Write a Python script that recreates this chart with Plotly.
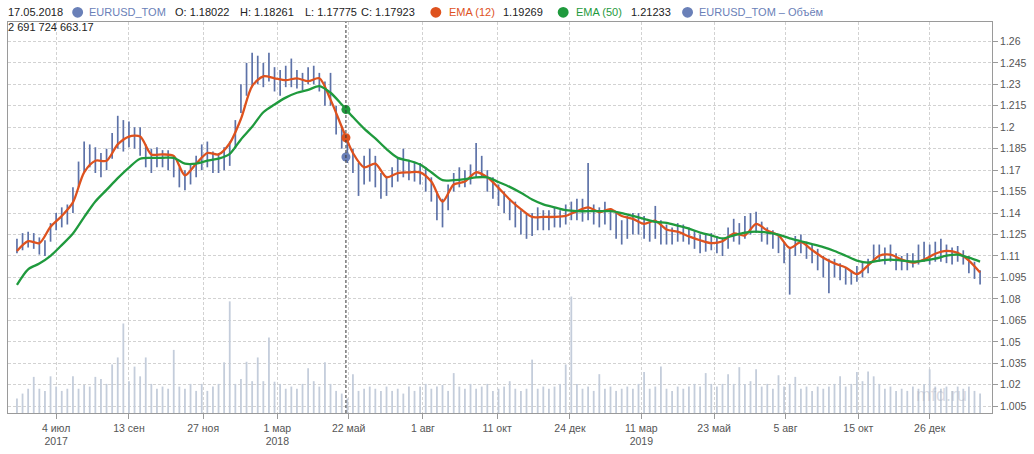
import plotly.graph_objects as go

# ---------------- data ----------------
SAMPLE_STEP = 4          # trading days between price / volume samples
EMA_STEP = 8             # trading days between EMA samples

low = [1.112, 1.114, 1.116, 1.115, 1.111, 1.110, 1.120, 1.128, 1.130, 1.132,
       1.140, 1.158, 1.168, 1.172, 1.168, 1.165, 1.170, 1.178, 1.185, 1.183,
       1.186, 1.185, 1.180, 1.172, 1.168, 1.172, 1.172, 1.170, 1.165, 1.158,
       1.156, 1.160, 1.165, 1.170, 1.172, 1.168, 1.168, 1.170, 1.173, 1.185,
       1.210, 1.222, 1.228, 1.230, 1.228, 1.232, 1.225, 1.222, 1.228, 1.228,
       1.227, 1.226, 1.230, 1.230, 1.225, 1.215, 1.215, 1.195, 1.185, 1.175,
       1.168, 1.152, 1.160, 1.162, 1.158, 1.150, 1.152, 1.158, 1.162, 1.165,
       1.163, 1.162, 1.160, 1.155, 1.148, 1.135, 1.130, 1.142, 1.155, 1.158,
       1.158, 1.160, 1.165, 1.165, 1.155, 1.150, 1.145, 1.140, 1.135, 1.130,
       1.125, 1.122, 1.124, 1.128, 1.128, 1.128, 1.130, 1.130, 1.132, 1.135,
       1.135, 1.134, 1.135, 1.132, 1.130, 1.132, 1.128, 1.122, 1.118, 1.122,
       1.125, 1.125, 1.122, 1.120, 1.122, 1.118, 1.118, 1.118, 1.120, 1.120,
       1.118, 1.115, 1.112, 1.113, 1.114, 1.112, 1.110, 1.115, 1.120, 1.118,
       1.122, 1.125, 1.126, 1.120, 1.118, 1.115, 1.112, 1.105, 1.083, 1.110,
       1.112, 1.108, 1.105, 1.100, 1.095, 1.084, 1.095, 1.093, 1.090, 1.090,
       1.092, 1.095, 1.098, 1.106, 1.106, 1.104, 1.106, 1.100, 1.100, 1.100,
       1.102, 1.104, 1.106, 1.104, 1.106, 1.106, 1.105, 1.104, 1.106, 1.104,
       1.098, 1.094, 1.090]

high = [1.122, 1.126, 1.127, 1.126, 1.123, 1.121, 1.133, 1.140, 1.144, 1.146,
        1.158, 1.176, 1.190, 1.188, 1.186, 1.182, 1.185, 1.196, 1.208, 1.205,
        1.204, 1.200, 1.200, 1.188, 1.185, 1.186, 1.184, 1.184, 1.180, 1.172,
        1.170, 1.175, 1.180, 1.188, 1.190, 1.183, 1.182, 1.186, 1.190, 1.205,
        1.230, 1.245, 1.252, 1.250, 1.245, 1.252, 1.242, 1.240, 1.243, 1.248,
        1.240, 1.238, 1.242, 1.243, 1.238, 1.232, 1.238, 1.215, 1.200, 1.190,
        1.185, 1.175, 1.180, 1.185, 1.180, 1.168, 1.166, 1.172, 1.178, 1.185,
        1.177, 1.176, 1.175, 1.172, 1.165, 1.155, 1.150, 1.160, 1.168, 1.172,
        1.170, 1.174, 1.189, 1.180, 1.170, 1.165, 1.160, 1.155, 1.150, 1.148,
        1.142, 1.140, 1.140, 1.144, 1.142, 1.142, 1.144, 1.142, 1.146, 1.148,
        1.150, 1.150, 1.175, 1.146, 1.144, 1.148, 1.142, 1.140, 1.135, 1.138,
        1.140, 1.140, 1.138, 1.135, 1.145, 1.135, 1.132, 1.130, 1.133, 1.132,
        1.130, 1.128, 1.125, 1.126, 1.126, 1.124, 1.122, 1.130, 1.136, 1.133,
        1.138, 1.140, 1.141, 1.134, 1.130, 1.128, 1.125, 1.120, 1.115, 1.124,
        1.125, 1.120, 1.118, 1.115, 1.110, 1.108, 1.108, 1.105, 1.102, 1.100,
        1.103, 1.106, 1.108, 1.118, 1.118, 1.116, 1.118, 1.112, 1.110, 1.112,
        1.112, 1.118, 1.120, 1.118, 1.120, 1.122, 1.118, 1.116, 1.117, 1.114,
        1.110, 1.106, 1.100]

volume_bn = [2.7, 3.6, 4.5, 6.7, 4.5, 4.1, 6.8, 4.9, 4.1, 4.5,
             6.8, 4.5, 5.2, 4.9, 6.7, 6.3, 5.4, 9.0, 10.3, 16.6,
             5.9, 8.6, 6.8, 10.3, 5.4, 4.5, 4.9, 4.5, 11.7, 4.9,
             4.5, 5.4, 4.1, 5.4, 4.1, 4.9, 5.4, 9.4, 20.7, 5.4,
             6.3, 9.5, 5.9, 10.3, 5.9, 14.0, 5.8, 5.4, 4.5, 4.9,
             4.5, 5.4, 8.3, 5.9, 4.9, 9.4, 5.4, 4.1, 3.6, 2.7,
             7.2, 4.1, 4.5, 4.9, 4.5, 4.1, 4.9, 4.1, 4.5, 3.6,
             4.9, 4.1, 4.9, 5.4, 4.5, 4.9, 5.2, 4.1, 7.4, 4.9,
             4.5, 5.4, 4.5, 4.9, 5.4, 4.1, 4.5, 4.9, 5.9, 4.5,
             4.1, 4.5, 9.9, 4.5, 4.9, 4.5, 4.9, 5.4, 9.0, 21.6,
             5.4, 4.5, 4.9, 4.1, 7.2, 4.5, 4.9, 4.1, 4.5, 4.9,
             4.5, 5.4, 7.6, 4.5, 4.9, 8.6, 4.5, 4.1, 4.9, 4.5,
             4.9, 5.4, 4.9, 7.4, 5.4, 4.9, 5.4, 7.2, 5.4, 8.5,
             5.4, 5.9, 8.1, 4.9, 5.4, 4.5, 7.0, 4.9, 5.4, 6.7,
             4.5, 4.9, 4.1, 4.9, 4.5, 4.9, 5.4, 6.8, 4.9, 5.4,
             7.6, 5.9, 7.7, 6.8, 5.4, 4.5, 4.9, 4.1, 4.5, 4.1,
             4.9, 4.5, 5.4, 8.1, 4.9, 4.5, 4.9, 4.1, 4.9, 4.5,
             4.9, 4.1, 3.6]

ema12 = [1.1135, 1.1204, 1.1190, 1.1305, 1.1380, 1.1475, 1.1685, 1.1766, 1.1766, 1.1880,
         1.1935, 1.1935, 1.1810, 1.1810, 1.1800, 1.1664, 1.1745, 1.1820, 1.1810, 1.1888,
         1.2058, 1.2288, 1.2356, 1.2342, 1.2329, 1.2342, 1.2322, 1.2342, 1.2193, 1.2003,
         1.1820, 1.1720, 1.1746, 1.1650, 1.1680, 1.1685, 1.1685, 1.1620, 1.1480, 1.1600,
         1.1620, 1.1685, 1.1650, 1.1576, 1.1495, 1.1427, 1.1373, 1.1373, 1.1373, 1.1380,
         1.1413, 1.1440, 1.1407, 1.1427, 1.1380, 1.1360, 1.1325, 1.1346, 1.1285, 1.1270,
         1.1237, 1.1210, 1.1190, 1.1203, 1.1257, 1.1244, 1.1325, 1.1278, 1.1244, 1.1156,
         1.1197, 1.1142, 1.1088, 1.1048, 1.1020, 1.0973, 1.1034, 1.1102, 1.1109, 1.1075,
         1.1054, 1.1075, 1.1116, 1.1136, 1.1122, 1.1068, 1.0985]

ema50 = [1.0898, 1.1007, 1.1047, 1.1101, 1.1176, 1.1257, 1.1372, 1.1481, 1.1562, 1.1644,
         1.1718, 1.1780, 1.1786, 1.1786, 1.1786, 1.1746, 1.1746, 1.1766, 1.1780, 1.1814,
         1.1915, 1.2003, 1.2105, 1.2159, 1.2207, 1.2241, 1.2261, 1.2288, 1.2241, 1.2159,
         1.2071, 1.1990, 1.1922, 1.1847, 1.1786, 1.1766, 1.1739, 1.1685, 1.1630, 1.1630,
         1.1637, 1.1650, 1.1650, 1.1617, 1.1583, 1.1542, 1.1495, 1.1461, 1.1440, 1.1420,
         1.1413, 1.1413, 1.1413, 1.1413, 1.1400, 1.1380, 1.1360, 1.1339, 1.1332, 1.1312,
         1.1291, 1.1264, 1.1244, 1.1223, 1.1244, 1.1264, 1.1271, 1.1264, 1.1250, 1.1223,
         1.1203, 1.1183, 1.1162, 1.1135, 1.1102, 1.1068, 1.1054, 1.1068, 1.1075, 1.1068,
         1.1061, 1.1068, 1.1081, 1.1102, 1.1109, 1.1088, 1.1061]

# x-axis labels (trading-day index of each labelled bar)
tick_days = [28, 80, 133, 186, 237, 290, 343, 395, 446, 498, 549, 601, 652]
tick_text = ["4 июл<br>2017", "13 сен", "27 ноя", "1 мар<br>2018", "22 май",
             "1 авг", "11 окт", "24 дек", "11 мар<br>2019", "23 май",
             "5 авг", "15 окт", "26 дек"]
y_ticks = [1.005, 1.02, 1.035, 1.05, 1.065, 1.08, 1.095, 1.11, 1.125, 1.14,
           1.155, 1.17, 1.185, 1.2, 1.215, 1.23, 1.245, 1.26]

# highlighted (crosshair) bar
hover_date = "17.05.2018"
hover_day = 235
hover_open, hover_high, hover_low, hover_close = 1.18022, 1.18261, 1.17775, 1.17923
hover_ema12, hover_ema50 = 1.19269, 1.21233
hover_volume = 2691724663.17

# ---------------- styling ----------------
W, H = 1034, 454
L, R, T, B = 7, 996, 22, 425
FONT = "Liberation Sans, Arial, sans-serif"
C_PRICE = "#5d72a8"
C_SER = "#6a80b8"
C_EMA12 = "#de521e"
C_EMA50 = "#1f9a3d"
C_VOL = "#c4cddb"
C_GRID = "#d2d2d2"
C_AXIS = "#9a9a9a"

price_days = [SAMPLE_STEP * i for i in range(len(low))]
ema_days = [EMA_STEP * i for i in range(len(ema12))]


def segments(xs, y0s, y1s):
    sx, sy = [], []
    for d, a, b in zip(xs, y0s, y1s):
        sx += [d, d, None]
        sy += [a, b, None]
    return sx, sy


seg_x, seg_y = segments(price_days, low, high)
vol_x, vol_y = segments(price_days, [0] * len(volume_bn), volume_bn)

fig = go.Figure()

fig.add_trace(go.Scatter(x=vol_x, y=vol_y, mode="lines", yaxis="y2",
                         line=dict(color=C_VOL, width=1.8),
                         hoverinfo="skip", showlegend=False))
fig.add_trace(go.Scatter(x=seg_x, y=seg_y, mode="lines",
                         line=dict(color=C_PRICE, width=1.7),
                         hoverinfo="skip", showlegend=False))
fig.add_trace(go.Scatter(x=ema_days, y=ema12, mode="lines",
                         line=dict(color=C_EMA12, width=2.3, shape="spline", smoothing=0.8),
                         hoverinfo="skip", showlegend=False))
fig.add_trace(go.Scatter(x=ema_days, y=ema50, mode="lines",
                         line=dict(color=C_EMA50, width=2.3, shape="spline", smoothing=0.8),
                         hoverinfo="skip", showlegend=False))
fig.add_trace(go.Scatter(x=[hover_day] * 3, y=[hover_close, hover_ema12, hover_ema50],
                         mode="markers",
                         marker=dict(size=9, color=[C_SER, C_EMA12, C_EMA50]),
                         hoverinfo="skip", showlegend=False))

fig.add_shape(type="line", xref="x", yref="paper", x0=hover_day, x1=hover_day,
              y0=0, y1=1, line=dict(color="#333333", width=1, dash="3px,2px"))


def px(x):
    return (x - L) / (R - L)


def py(y):
    return (B - y) / (B - T)


def fmt(v):
    return f"{v:.3f}".rstrip("0").rstrip(".")


ann = []
head_y = py(12)
HEAD_SIZE = 11


def text(x, s, color="#222222", size=HEAD_SIZE):
    ann.append(dict(x=px(x), y=head_y, xref="paper", yref="paper", text=s,
                    showarrow=False, xanchor="left", yanchor="middle",
                    font=dict(family=FONT, size=size, color=color)))


def dot(cx, color):
    r = 5.5
    fig.add_shape(type="circle", xref="paper", yref="paper",
                  x0=px(cx - r), x1=px(cx + r), y0=py(12 + r), y1=py(12 - r),
                  fillcolor=color, line=dict(width=0))


text(5, hover_date)
dot(77, C_SER)
text(86, "EURUSD_TOM", C_SER)
text(173, f"O: {hover_open:.5f}")
text(238, f"H: {hover_high:.5f}")
text(303, f"L: {hover_low:.5f}")
text(360, f"C: {hover_close:.5f}")
dot(437, C_EMA12)
text(448, "EMA (12)", C_EMA12)
text(503, f"{hover_ema12:.5f}")
dot(565, C_EMA50)
text(576, "EMA (50)", C_EMA50)
text(631, f"{hover_ema50:.5f}")
dot(690, C_SER)
text(699, "EURUSD_TOM – Объём", C_SER)

vol_txt = f"{hover_volume:,.2f}".replace(",", " ")
ann.append(dict(x=px(5), y=py(27), xref="paper", yref="paper", text=vol_txt,
                showarrow=False, xanchor="left", yanchor="middle",
                font=dict(family=FONT, size=HEAD_SIZE, color="#222222")))
ann.append(dict(x=px(945), y=py(406), xref="paper", yref="paper", text="mfd.ru",
                showarrow=False, xanchor="center", yanchor="middle",
                font=dict(family=FONT, size=18, color="rgba(170,176,192,0.45)")))

x_lo = (L - 16) / 1.407
x_hi = (R - 16) / 1.407
y_lo = 1.26 - (B - 42) / 1474.5
y_hi = 1.26 + (42 - T) / 1474.5

fig.update_layout(
    width=W, height=H,
    margin=dict(l=L, r=W - R, t=T, b=H - B),
    paper_bgcolor="white", plot_bgcolor="white",
    showlegend=False,
    annotations=ann,
    font=dict(family=FONT),
    xaxis=dict(range=[x_lo, x_hi], tickmode="array", tickvals=tick_days, ticktext=tick_text,
               showline=True, linecolor=C_AXIS, linewidth=1, mirror=True,
               ticks="outside", ticklen=5, tickcolor=C_AXIS,
               tickfont=dict(family=FONT, size=10.5, color="#555555"),
               showgrid=True, gridcolor=C_GRID, griddash="3px,2px", gridwidth=1,
               zeroline=False),
    yaxis=dict(range=[y_lo, y_hi], side="right", tickmode="array",
               tickvals=y_ticks, ticktext=[fmt(v) for v in y_ticks],
               showline=True, linecolor=C_AXIS, linewidth=1, mirror=True,
               ticks="outside", ticklen=5, tickcolor=C_AXIS,
               tickfont=dict(family=FONT, size=10.5, color="#555555"),
               showgrid=True, gridcolor=C_GRID, griddash="3px,2px", gridwidth=1,
               zeroline=False),
    yaxis2=dict(range=[0, 72.5], overlaying="y", visible=False, showgrid=False),
)

fig.write_html("out.html")
